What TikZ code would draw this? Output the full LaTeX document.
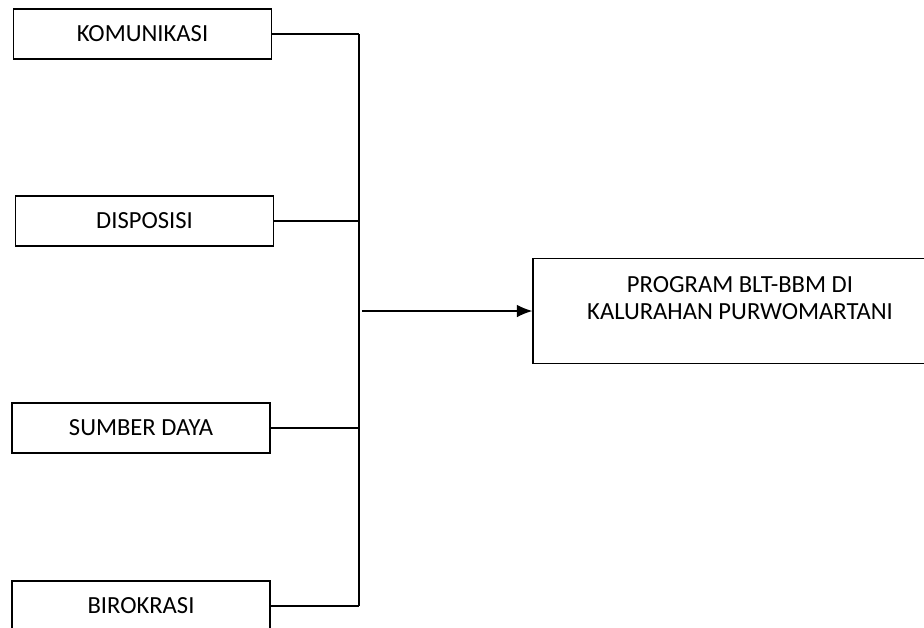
\documentclass[tikz,border=0pt]{standalone}
\usepackage{fontspec}
\setmainfont{Carlito}
\usetikzlibrary{arrows.meta}

\begin{document}
\begin{tikzpicture}[x=0.025cm, y=-0.025cm, line width=0.9pt,
		every node/.style={font=\fontsize{17.5}{19.9}\selectfont},
		faktor/.style={draw, minimum width=6.45cm, minimum height=1.25cm, inner sep=0pt},
		hasil/.style={draw, align=center, minimum width=10.35cm, minimum height=2.625cm}]
			 \clip (0,0) rectangle (924,627);
			 \node[faktor] (kom)at(142.5,34) {KOMUNIKASI};
			 \node[faktor] (disp)at(144.5,221) {DISPOSISI};
			 \node[faktor] (sumber)at(141,428) {SUMBER DAYA};
			 \node[faktor] (biro)at(141,606) {BIROKRASI};
			 \node[hasil] (prog)at(740,311) {PROGRAM BLT-BBM DI\\KALURAHAN PURWOMARTANI\rule[-0.65cm]{0pt}{0pt}};
			 \coordinate (bustop)at(359,34);
			 \coordinate (busbot)at(359,606);
			 \draw (bustop) -- (busbot);
			 \draw (kom.east) -- (kom.east -| bustop);
			 \draw (disp.east) -- (disp.east -| bustop);
			 \draw (sumber.east) -- (sumber.east -| bustop);
			 \draw (biro.east) -- (biro.east -| bustop);
			 \draw[-{Latex[length=11pt,width=9pt]}] ([xshift=2pt]prog.west -| bustop) -- (prog.west);
		\end{tikzpicture}
\end{document}
